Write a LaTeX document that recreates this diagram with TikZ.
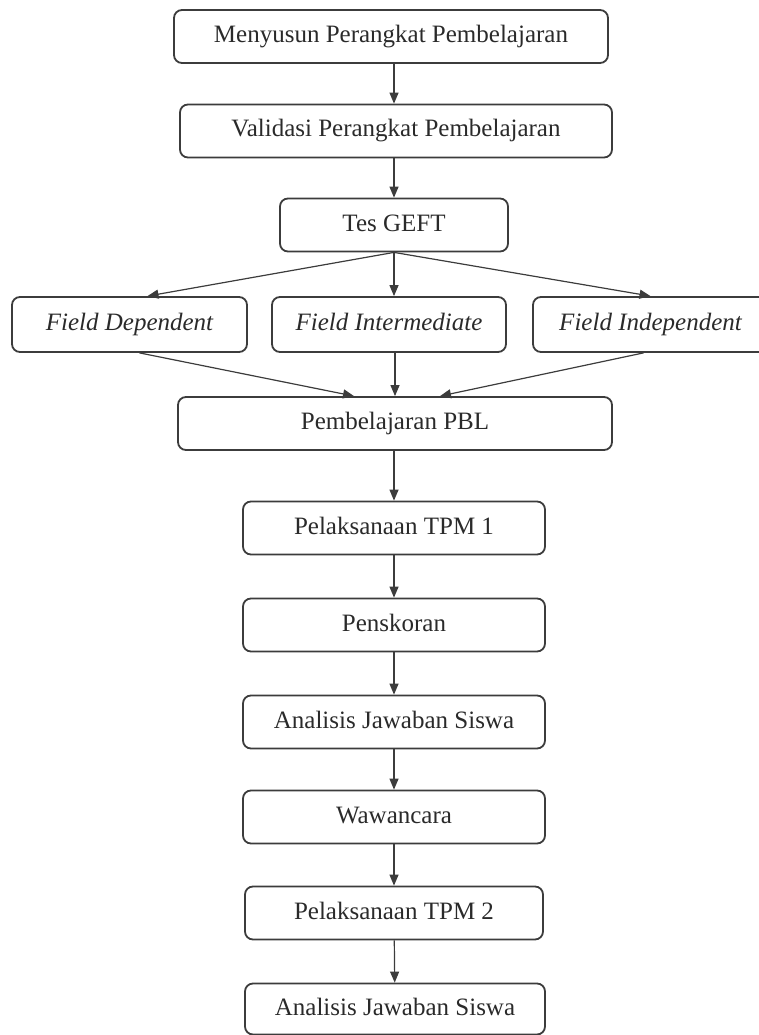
\documentclass[tikz,border=0pt]{standalone}
\usepackage{fontspec}
\setmainfont{Liberation Serif}
\usepackage{xcolor}
\usetikzlibrary{positioning,arrows.meta}
\definecolor{boxgray}{HTML}{3C3C3C}
\definecolor{textgray}{HTML}{2A2A2A}

\begin{document}
\begin{tikzpicture}[x=1pt,y=1pt,every node/.style={on grid},
    box/.style={draw=boxgray,line width=1.8pt,rounded corners=8pt,minimum height=53pt,
      inner sep=0pt,text height=17pt,text depth=5pt,text=textgray,font=\fontsize{25}{30}\selectfont},
    arr/.style={-{Triangle[length=11pt,width=9pt]},line width=1.2pt,draw=boxgray}]
    \useasboundingbox (0,0) rectangle (758,-1035);
    \node[box,minimum width=434pt] (menyusun) at (391,-36.5) {Menyusun Perangkat Pembelajaran};
    \node[box,minimum width=432pt,below=94.5pt of menyusun,xshift=5pt] (validasi) {Validasi Perangkat Pembelajaran};
    \node[box,minimum width=228pt,below=94pt of validasi,xshift=-2pt] (tes) {Tes GEFT};
    \node[box,minimum width=234pt,minimum height=55pt,below=99.5pt of tes,xshift=-5pt] (fint) {\itshape Field Intermediate};
    \node[box,minimum width=235pt,minimum height=55pt,left=259.5pt of fint] (fdep) {\itshape Field Dependent};
    \node[box,minimum width=235pt,minimum height=55pt,right=261.5pt of fint] (findep) {\itshape Field Independent};
    \node[box,minimum width=434pt,below=99pt of fint,xshift=6pt] (pbl) {Pembelajaran PBL};
    \node[box,minimum width=302pt,below=104.5pt of pbl,xshift=-1pt] (tpma) {Pelaksanaan TPM 1};
    \node[box,minimum width=302pt,below=97pt of tpma] (skor) {Penskoran};
    \node[box,minimum width=302pt,below=97pt of skor] (analisa) {Analisis Jawaban Siswa};
    \node[box,minimum width=302pt,below=95pt of analisa] (wawan) {Wawancara};
    \node[box,minimum width=298pt,below=96pt of wawan] (tpmb) {Pelaksanaan TPM 2};
    \node[box,minimum width=300pt,minimum height=51pt,below=96pt of tpmb,xshift=1pt] (analisb) {Analisis Jawaban Siswa};
    \draw[arr] (menyusun.south -| tes.north) -- (validasi.north -| tes.north);
    \draw[arr] (validasi.south -| tes.north) -- (tes.north);
    \draw[arr] (tes.south) -- ([xshift=18pt]fdep.north);
    \draw[arr] (tes.south) -- (tes.south |- fint.north);
    \draw[arr] (tes.south) -- (findep.north);
    \draw[arr] ([xshift=10pt]fdep.south) -- ([xshift=-41pt]pbl.north);
    \draw[arr] (fint.south -| pbl.north) -- (pbl.north);
    \draw[arr] ([xshift=-7pt]findep.south) -- ([xshift=45pt]pbl.north);
    \draw[arr] (pbl.south -| tpma.north) -- (tpma.north);
    \draw[arr] (tpma) -- (skor);
    \draw[arr] (skor) -- (analisa);
    \draw[arr] (analisa) -- (wawan);
    \draw[arr] (wawan) -- (tpmb);
    \draw[arr] (tpmb) -- (analisb);
  \end{tikzpicture}
\end{document}
